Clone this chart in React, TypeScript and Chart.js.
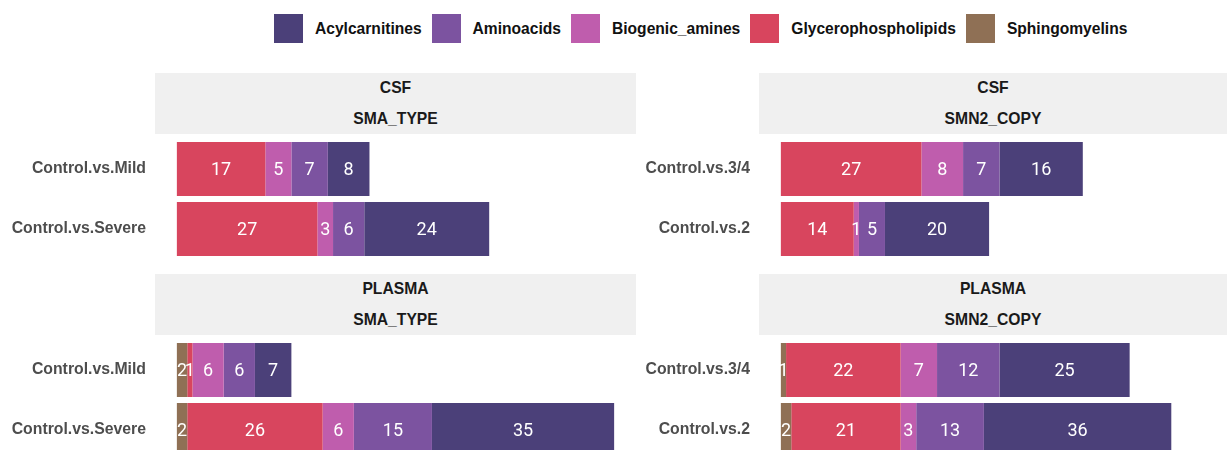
import React, { useEffect, useRef } from "react";
import { Chart, registerables } from "chart.js";

Chart.register(...registerables);

const seriesNames = ["Sphingomyelins", "Glycerophospholipids", "Biogenic_amines", "Aminoacids", "Acylcarnitines"];
const seriesColors = ["#8F7055", "#D8455E", "#BF5DAD", "#7C53A0", "#4B4079"];
const legendOrder = ["Acylcarnitines", "Aminoacids", "Biogenic_amines", "Glycerophospholipids", "Sphingomyelins"];

const smaTypeCategories = ["Control.vs.Mild", "Control.vs.Severe"];
const smn2CopyCategories = ["Control.vs.3/4", "Control.vs.2"];

const csfSmaSphingo = [0, 0];
const csfSmaGlycero = [17, 27];
const csfSmaBiogenic = [5, 3];
const csfSmaAmino = [7, 6];
const csfSmaAcyl = [8, 24];

const csfSmnSphingo = [0, 0];
const csfSmnGlycero = [27, 14];
const csfSmnBiogenic = [8, 1];
const csfSmnAmino = [7, 5];
const csfSmnAcyl = [16, 20];

const plasmaSmaSphingo = [2, 2];
const plasmaSmaGlycero = [1, 26];
const plasmaSmaBiogenic = [6, 6];
const plasmaSmaAmino = [6, 15];
const plasmaSmaAcyl = [7, 35];

const plasmaSmnSphingo = [1, 2];
const plasmaSmnGlycero = [22, 21];
const plasmaSmnBiogenic = [7, 3];
const plasmaSmnAmino = [12, 13];
const plasmaSmnAcyl = [25, 36];

const X_MIN = -4.2;
const X_MAX_LEFT = 88.2;
const X_MAX_RIGHT = 85.7;

const barLabelPlugin = {
  id: "barLabels",
  afterDatasetsDraw(chart: any) {
    const ctx = chart.ctx;
    ctx.save();
    ctx.fillStyle = "#ffffff";
    ctx.font = "18px Roboto";
    ctx.textAlign = "center";
    ctx.textBaseline = "middle";
    chart.data.datasets.forEach((ds: any, di: number) => {
      const meta = chart.getDatasetMeta(di);
      meta.data.forEach((el: any, i: number) => {
        const v = ds.data[i];
        if (!v) return;
        ctx.fillText(String(v), (el.x + el.base) / 2, el.y + 1);
      });
    });
    ctx.restore();
  },
};

type PanelProps = {
  left: number;
  top: number;
  width: number;
  axisWidth: number;
  xMax: number;
  categories: string[];
  values: number[][];
};

function Panel({ left, top, width, axisWidth, xMax, categories, values }: PanelProps) {
  const ref = useRef<HTMLCanvasElement | null>(null);
  useEffect(() => {
    if (!ref.current) return;
    const chart = new Chart(ref.current, {
      type: "bar",
      data: {
        labels: categories,
        datasets: seriesNames.map((name, i) => ({
          label: name,
          data: values[i],
          backgroundColor: seriesColors[i],
          borderWidth: 0,
          barPercentage: 0.9,
          categoryPercentage: 1.0,
        })),
      },
      options: {
        indexAxis: "y",
        animation: false,
        responsive: false,
        devicePixelRatio: 1,
        layout: { padding: 0, autoPadding: false },
        plugins: { legend: { display: false }, tooltip: { enabled: false }, title: { display: false } },
        scales: {
          x: {
            stacked: true,
            min: X_MIN,
            max: xMax,
            display: false,
          },
          y: {
            stacked: true,
            offset: true,
            grid: { display: false, drawTicks: false },
            border: { display: false },
            ticks: {
              padding: 9,
              color: "#4D4D4D",
              font: { family: "'Liberation Sans', Arial, sans-serif", size: 15.8, weight: "bold" },
            },
            afterFit(scale: any) {
              scale.width = axisWidth;
              scale.paddingTop = 0;
              scale.paddingBottom = 0;
            },
          },
        },
      },
      plugins: [barLabelPlugin],
    } as any);
    return () => chart.destroy();
  }, []);
  return (
    <canvas
      ref={ref}
      width={width}
      height={120}
      style={{ position: "absolute", left, top, width, height: 120 }}
    />
  );
}

function Strip({ left, top, width, line1, line2 }: { left: number; top: number; width: number; line1: string; line2: string }) {
  const textStyle: React.CSSProperties = {
    position: "absolute",
    left: 0,
    width: "100%",
    textAlign: "center",
    fontFamily: "'Liberation Sans', Arial, sans-serif",
    fontWeight: "bold",
    fontSize: 15.7,
    color: "#1A1A1A",
    lineHeight: "20px",
  };
  return (
    <div style={{ position: "absolute", left, top, width, height: 61, background: "#F0F0F0" }}>
      <div style={{ ...textStyle, top: 5 }}>{line1}</div>
      <div style={{ ...textStyle, top: 36 }}>{line2}</div>
    </div>
  );
}

function Legend() {
  return (
    <div style={{ position: "absolute", left: 274, top: 14, display: "flex", alignItems: "center", height: 29 }}>
      {legendOrder.map((name) => {
        const c = seriesColors[seriesNames.indexOf(name)];
        return (
          <div key={name} style={{ display: "flex", alignItems: "center", marginRight: 10 }}>
            <div style={{ width: 29, height: 29, background: c, marginRight: 12 }} />
            <span
              style={{
                fontFamily: "'Liberation Sans', Arial, sans-serif",
                fontSize: 15.6,
                fontWeight: "bold",
                color: "#111111",
                whiteSpace: "nowrap",
              }}
            >
              {name}
            </span>
          </div>
        );
      })}
    </div>
  );
}

export default function App() {
  return (
    <div
      style={{
        position: "absolute",
        left: 0,
        top: 0,
        width: 1227,
        height: 450,
        overflow: "hidden",
        background: "#ffffff",
      }}
    >
      <Legend />
      <Strip left={155} top={73} width={481} line1="CSF" line2="SMA_TYPE" />
      <Strip left={759} top={73} width={468} line1="CSF" line2="SMN2_COPY" />
      <Strip left={155} top={274} width={481} line1="PLASMA" line2="SMA_TYPE" />
      <Strip left={759} top={274} width={468} line1="PLASMA" line2="SMN2_COPY" />
      <Panel
        left={0}
        top={139}
        width={636}
        axisWidth={155}
        xMax={X_MAX_LEFT}
        categories={smaTypeCategories}
        values={[csfSmaSphingo, csfSmaGlycero, csfSmaBiogenic, csfSmaAmino, csfSmaAcyl]}
      />
      <Panel
        left={640}
        top={139}
        width={587}
        axisWidth={119}
        xMax={X_MAX_RIGHT}
        categories={smn2CopyCategories}
        values={[csfSmnSphingo, csfSmnGlycero, csfSmnBiogenic, csfSmnAmino, csfSmnAcyl]}
      />
      <Panel
        left={0}
        top={340}
        width={636}
        axisWidth={155}
        xMax={X_MAX_LEFT}
        categories={smaTypeCategories}
        values={[plasmaSmaSphingo, plasmaSmaGlycero, plasmaSmaBiogenic, plasmaSmaAmino, plasmaSmaAcyl]}
      />
      <Panel
        left={640}
        top={340}
        width={587}
        axisWidth={119}
        xMax={X_MAX_RIGHT}
        categories={smn2CopyCategories}
        values={[plasmaSmnSphingo, plasmaSmnGlycero, plasmaSmnBiogenic, plasmaSmnAmino, plasmaSmnAcyl]}
      />
    </div>
  );
}
